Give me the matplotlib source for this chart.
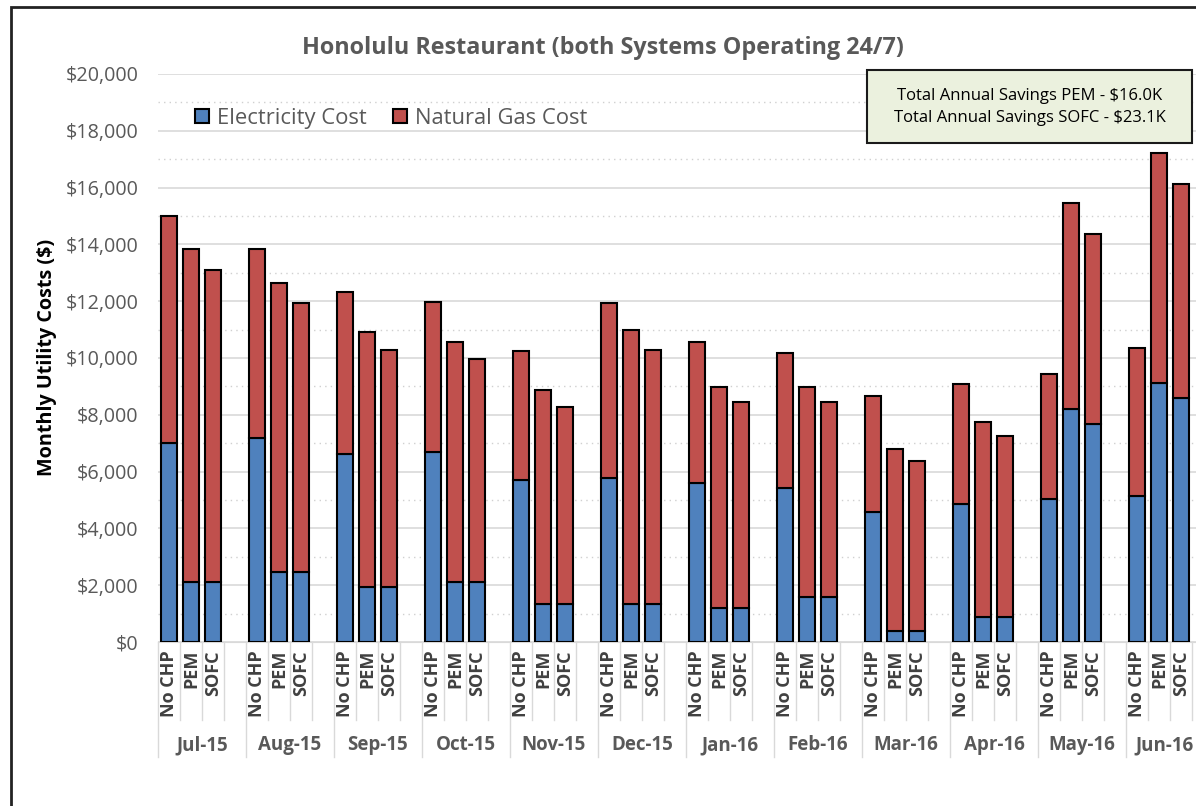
import matplotlib
matplotlib.use("Agg")
import matplotlib.pyplot as plt
import numpy as np
from matplotlib.patches import Rectangle
from matplotlib.ticker import MultipleLocator, FuncFormatter
import matplotlib.transforms as mtransforms

plt.rcParams['font.family'] = ['Open Sans', 'DejaVu Sans']

months = ['Jul-15', 'Aug-15', 'Sep-15', 'Oct-15', 'Nov-15', 'Dec-15',
          'Jan-16', 'Feb-16', 'Mar-16', 'Apr-16', 'May-16', 'Jun-16']
systems = ['No CHP', 'PEM', 'SOFC']

nochp_total = [15000, 13840, 12330, 11970, 10260, 11930, 10560, 10160, 8670, 9080, 9450, 10350]
pem_total = [13840, 12650, 10920, 10550, 8860, 10970, 8970, 8970, 6780, 7760, 15450, 17230]
sofc_total = [13100, 11950, 10280, 9950, 8270, 10280, 8440, 8440, 6370, 7250, 14370, 16130]

nochp_elec = [7000, 7170, 6610, 6680, 5690, 5790, 5610, 5430, 4590, 4850, 5020, 5140]
pem_elec = [2120, 2450, 1950, 2120, 1330, 1330, 1210, 1600, 400, 870, 8200, 9110]
sofc_elec = [2120, 2450, 1950, 2120, 1330, 1330, 1210, 1600, 400, 870, 7670, 8580]

annot_lines = ['Total Annual Savings PEM - $16.0K', 'Total Annual Savings SOFC - $23.1K']
title = 'Honolulu Restaurant (both Systems Operating 24/7)'

BLUE = '#4F81BD'
RED = '#C0504D'
GREY = '#595959'

W, H = 1196, 806
fig = plt.figure(figsize=(W / 100, H / 100), dpi=100)

# plot area in pixels
left_px, right_px = 158, 1196
top_px, bot_px = 74, 642
ax = fig.add_axes([left_px / W, 1 - bot_px / H, (right_px - left_px) / W, (bot_px - top_px) / H])

slot = 22.0
nslots_visible = (right_px - left_px) / slot
ax.set_xlim(-0.5, -0.5 + nslots_visible)
ax.set_ylim(0, 20000)

totals = [nochp_total, pem_total, sofc_total]
elecs = [nochp_elec, pem_elec, sofc_elec]
bw = 0.72
for s in range(3):
    xs = np.arange(len(months)) * 4 + s
    e = np.array(elecs[s])
    g = np.array(totals[s]) - e
    ax.bar(xs, e, width=bw, color=BLUE, edgecolor='black', linewidth=1.5, zorder=3,
           label='Electricity Cost' if s == 0 else None)
    ax.bar(xs, g, bottom=e, width=bw, color=RED, edgecolor='black', linewidth=1.5, zorder=3,
           label='Natural Gas Cost' if s == 0 else None)

# grid
ax.yaxis.set_major_locator(MultipleLocator(2000))
ax.yaxis.set_minor_locator(MultipleLocator(1000))
ax.grid(axis='y', which='major', color='#D9D9D9', linewidth=1.2, zorder=0)
ax.grid(axis='y', which='minor', color='#D0D0D0', linewidth=1.0, linestyle=(0, (1, 3)), zorder=0)
ax.yaxis.set_major_formatter(FuncFormatter(lambda v, p: '${:,.0f}'.format(v)))
ax.tick_params(axis='y', which='both', length=0, labelsize=14.2, labelcolor=GREY, pad=14)
for sp in ax.spines.values():
    sp.set_visible(False)
ax.spines['bottom'].set_visible(True)
ax.spines['bottom'].set_color('#D9D9D9')
ax.set_xticks([])

# category labels (two-level)
trans = mtransforms.blended_transform_factory(ax.transData, ax.transAxes)
hax = bot_px - top_px
inner_depth = (720 - 642) / hax
outer_depth = (757 - 642) / hax
for m, month in enumerate(months):
    base = m * 4
    for s, sysname in enumerate(systems):
        ax.text(base + s, -8 / hax, sysname, transform=trans, rotation=90,
                ha='center', va='top', fontsize=13, fontweight='bold', color='#404040')
    xc = base + 1.5 if m < len(months) - 1 else base + 1.25
    ax.text(xc, -(745 - 642) / hax, month, transform=trans,
            ha='center', va='center', fontsize=13.5, fontweight='bold', color=GREY)
    for k in range(4):
        xb = base - 0.5 + k
        depth = outer_depth if k == 0 else inner_depth
        ax.plot([xb, xb], [0, -depth], transform=trans, color='#D9D9D9', lw=1.0, clip_on=False)

# y label
fig.text(47 / W, 1 - 357 / H, 'Monthly Utility Costs ($)', rotation=90, ha='center', va='center',
         fontsize=14.2, fontweight='bold', color='black')

# title
fig.text(603 / W, 1 - 48 / H, title, ha='center', va='center', fontsize=16.8,
         fontweight='bold', color=GREY)

# legend
leg = ax.legend(loc='upper left', bbox_to_anchor=((186 - left_px) / (right_px - left_px), 1 - (99 - top_px) / hax),
                ncol=2, frameon=False, fontsize=15.8, handlelength=0.65, handleheight=0.65,
                handletextpad=0.35, columnspacing=1.2, borderaxespad=0)
for t in leg.get_texts():
    t.set_color(GREY)

# annotation box
box = Rectangle((867 / W, 1 - 143 / H), (1192 - 867) / W, (143 - 70) / H, transform=fig.transFigure,
                facecolor='#EBF1DE', edgecolor='#1a1a1a', linewidth=1.5, zorder=5)
fig.add_artist(box)
fig.text(1030 / W, 1 - 96 / H, annot_lines[0], ha='center', va='center', fontsize=12, color='black', zorder=6)
fig.text(1030 / W, 1 - 118 / H, annot_lines[1], ha='center', va='center', fontsize=12, color='black', zorder=6)

# outer frame
frame = Rectangle((11 / W, -0.05), 1.1, 1 - 7 / H + 0.05, transform=fig.transFigure,
                  facecolor='none', edgecolor='#222222', linewidth=2.0, zorder=10)
fig.add_artist(frame)

fig.savefig('out.png', dpi=100)
